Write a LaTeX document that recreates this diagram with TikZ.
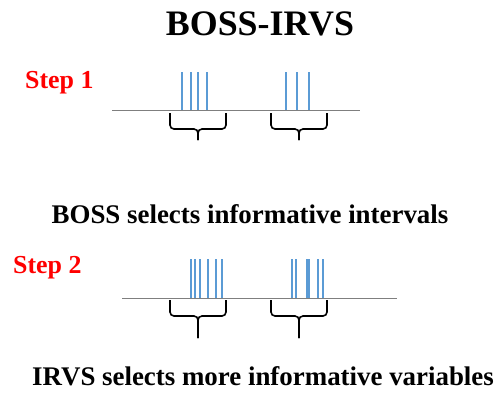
\documentclass[tikz,border=0pt]{standalone}
\usepackage{fontspec}
\setmainfont{Liberation Serif}
\usetikzlibrary{positioning}

\definecolor{barblue}{HTML}{5B9BD5}
\definecolor{axisgray}{HTML}{7F7F7F}

\tikzset{
    title/.style   = {font=\bfseries\fontsize{36}{40}\selectfont, anchor=base},
    steplabel/.style = {font=\bfseries\fontsize{26}{29}\selectfont, text=red, anchor=base west, inner sep=0pt},
    caption/.style = {font=\bfseries\fontsize{27}{30}\selectfont, anchor=base},
    axis/.style    = {draw=axisgray, line width=0.8pt},
    bar/.style     = {draw=barblue, line width=1.1pt},
    bracket/.style = {draw=black, line width=1.6pt, rounded corners=4pt},
}

% brace: #1 left x, #2 right x, #3 top y, #4 bottom y, #5 tip y
\newcommand{\grpbrace}[5]{%
    \path[bracket] (#1,#3) -- (#1,#4) -- ({(#1+#2)/2},#4) -- ({(#1+#2)/2},#5);
    \path[bracket] (#2,#3) -- (#2,#4) -- ({(#1+#2)/2},#4) -- ({(#1+#2)/2},#5);
}

\begin{document}
\begin{tikzpicture}[x=1bp, y=-1bp]
    \useasboundingbox (0,0) rectangle (502,399);

    % Texts
    \node [title]     (head)  at (260,35)  {BOSS-IRVS};
    \node [steplabel] (step1) at (25,88)   {Step 1};
    \node [steplabel] (step2) at (13,273)  {Step 2};
    \node [caption]   (cap1)  at (250,223) {BOSS selects informative intervals};
    \node [caption]   (cap2)  at (263,385) {IRVS selects more informative variables};

    % Step 1
    \coordinate (a1) at (112,110);
    \coordinate (b1) at (360,110);
    \path [axis] (a1) -- (b1);
    \foreach \x in {182,191,198,207,286,297,309}
        \path [bar] (\x,72) -- (\x,110);
    \grpbrace{170}{226}{113}{129}{140}
    \grpbrace{271}{327}{113}{129}{140}

    % Step 2
    \coordinate (a2) at (122,298);
    \coordinate (b2) at (397,298);
    \path [axis] (a2) -- (b2);
    \foreach \x in {191,195,200,208,216,222,292,296,307,309,318,323}
        \path [bar] (\x,259) -- (\x,298);
    \grpbrace{170}{226}{300}{316}{338}
    \grpbrace{271}{327}{300}{316}{338}
\end{tikzpicture}
\end{document}
